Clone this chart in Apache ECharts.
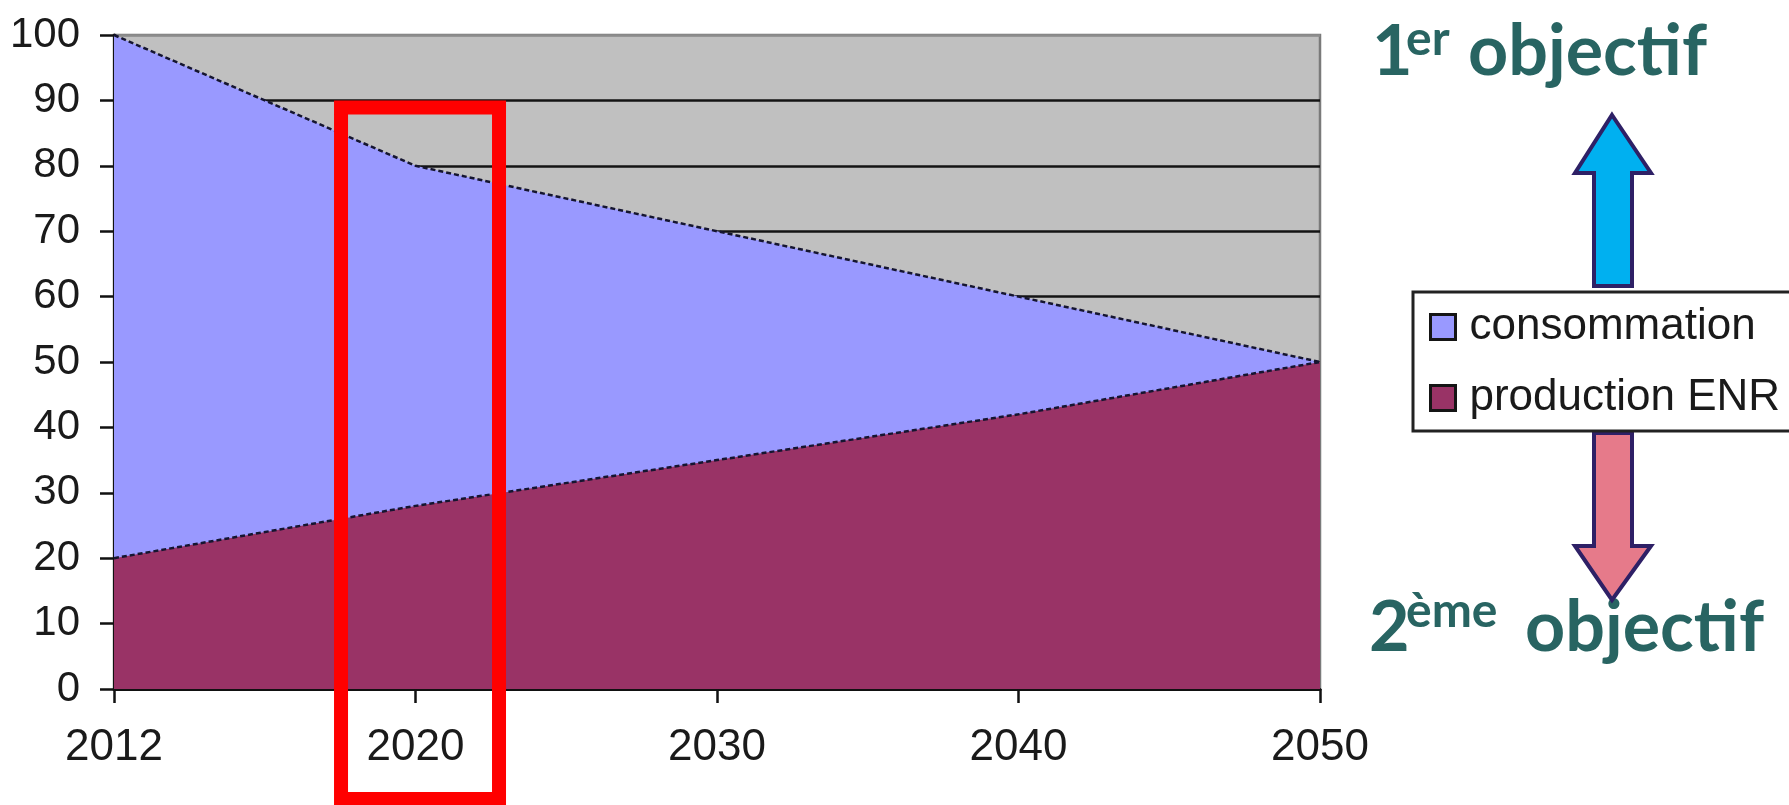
<!DOCTYPE html>
<html><head><meta charset="utf-8">
<script src="https://cdn.jsdelivr.net/npm/echarts@6/dist/echarts.min.js"></script>
<style>html,body{margin:0;padding:0;background:#fff}#c{width:1789px;height:805px}</style>
</head><body><div id="c"></div>
<script>
// ---- data ----
const years = ['2012', '2020', '2030', '2040', '2050'];
const consommation = [100, 80, 70, 60, 50];
const productionENR = [20, 28, 35, 42, 50];
const seriesNames = ['consommation', 'production ENR'];
const yMin = 0, yMax = 100, yStep = 10;
const highlightYear = '2020';
const highlightTop = 90;
const objectif1 = ['1', 'er', 'objectif'];
const objectif2 = ['2', 'ème', 'objectif'];

// ---- styles ----
const teal = '#286462';
const labelFont = 'Liberation Sans, Arial, sans-serif';
const titleFont = 'Lato, sans-serif';
const splitColors = [];
for (let v = yMin; v <= yMax; v += yStep) splitColors.push(v === yMax ? '#8c8c8c' : '#141414');

const chart = echarts.init(document.getElementById('c'), null, { renderer: 'canvas' });

function titleTexts(parts, xs, baseline, raise) {
  const big = 70, small = 48, k = 0.316;
  return [
    { type: 'text', x: xs[0], y: baseline - k * big, style: { text: parts[0], fill: teal, font: 'bold ' + big + 'px ' + titleFont, verticalAlign: 'middle', align: 'left' } },
    { type: 'text', x: xs[1], y: baseline - raise - k * small, style: { text: parts[1], fill: teal, font: 'bold ' + small + 'px ' + titleFont, verticalAlign: 'middle', align: 'left' } },
    { type: 'text', x: xs[2], y: baseline - k * big, style: { text: parts[2], fill: teal, font: 'bold ' + big + 'px ' + titleFont, verticalAlign: 'middle', align: 'left' } }
  ];
}

const arrowStroke = '#2E2066';
const upArrow = {
  type: 'polygon',
  shape: { points: [[1612, 115], [1651, 173], [1632, 173], [1632, 286], [1594, 286], [1594, 173], [1575, 173]] },
  style: { fill: '#00B0F0', stroke: arrowStroke, lineWidth: 4, lineJoin: 'miter' }
};
const downArrow = {
  type: 'polygon',
  shape: { points: [[1594, 433], [1632, 433], [1632, 546], [1651, 546], [1612, 600], [1575, 546], [1594, 546]] },
  style: { fill: '#E67A8A', stroke: arrowStroke, lineWidth: 4, lineJoin: 'miter' }
};

const option = {
  backgroundColor: '#ffffff',
  animation: false,
  grid: {
    left: 114, right: 469, top: 35, bottom: 116,
    show: true, backgroundColor: '#C0C0C0', borderColor: '#7a7a7a', borderWidth: 2.5,
    containLabel: false, outerBoundsMode: 'none'
  },
  legend: {
    orient: 'vertical', left: 1413, top: 292,
    padding: [13, 40, 11, 16],
    itemGap: 27, itemWidth: 25, itemHeight: 25,
    icon: 'rect',
    backgroundColor: '#ffffff', borderColor: '#222', borderWidth: 3, borderRadius: 0,
    itemStyle: { borderColor: '#151515', borderWidth: 3 },
    textStyle: { fontSize: 44, fontFamily: labelFont, color: '#1a1a1a', lineHeight: 44, padding: [0, 0, 0, 9] },
    data: seriesNames,
    selectedMode: false
  },
  xAxis: {
    type: 'category', data: years, boundaryGap: false,
    axisLine: { show: true, lineStyle: { color: '#111', width: 3 } },
    axisTick: { show: true, alignWithLabel: true, length: 14, lineStyle: { color: '#111', width: 2.5 } },
    axisLabel: { fontSize: 44, fontFamily: labelFont, color: '#1a1a1a', margin: 37 },
    splitLine: { show: false }
  },
  yAxis: {
    type: 'value', min: yMin, max: yMax, interval: yStep,
    axisLine: { show: true, lineStyle: { color: '#111', width: 3 } },
    axisTick: { show: true, length: 14, lineStyle: { color: '#111', width: 2.5 } },
    axisLabel: { fontSize: 42, fontFamily: labelFont, color: '#1a1a1a', margin: 34 },
    splitLine: { show: true, lineStyle: { color: splitColors, width: 2.5 } }
  },
  series: [
    {
      name: seriesNames[0], type: 'line', data: consommation, symbol: 'none',
      itemStyle: { color: '#9999FF' },
      lineStyle: { color: '#151530', width: 2.5, type: [5, 3] },
      areaStyle: { color: '#9999FF', opacity: 1 },
      z: 2
    },
    {
      name: seriesNames[1], type: 'line', data: productionENR, symbol: 'none',
      itemStyle: { color: '#993366' },
      lineStyle: { color: '#151530', width: 2.5, type: [5, 3] },
      areaStyle: { color: '#993366', opacity: 1 },
      z: 3
    }
  ],
  graphic: [].concat(
    titleTexts(objectif1, [1372, 1406, 1468], 75, 20),
    titleTexts(objectif2, [1369, 1406, 1525], 651, 24),
    [upArrow, downArrow])
};
chart.setOption(option);

// Red highlight box anchored to the axes
const xc = chart.convertToPixel({ gridIndex: 0 }, [highlightYear, highlightTop]);
const x0 = chart.convertToPixel({ gridIndex: 0 }, [years[0], 0]);
const x1 = chart.convertToPixel({ gridIndex: 0 }, [years[1], 0]);
const step = x1[0] - x0[0];
const sw = 14;
const leftX = xc[0] - step * 0.247, rightX = xc[0] + step * 0.277;
chart.setOption({
  graphic: option.graphic.concat([{
    type: 'rect', z: 100,
    shape: { x: leftX, y: xc[1] + sw / 2, width: rightX - leftX, height: 799 - (xc[1] + sw / 2) },
    style: { fill: 'none', stroke: '#FF0000', lineWidth: sw }
  }])
});
</script>
</body></html>
